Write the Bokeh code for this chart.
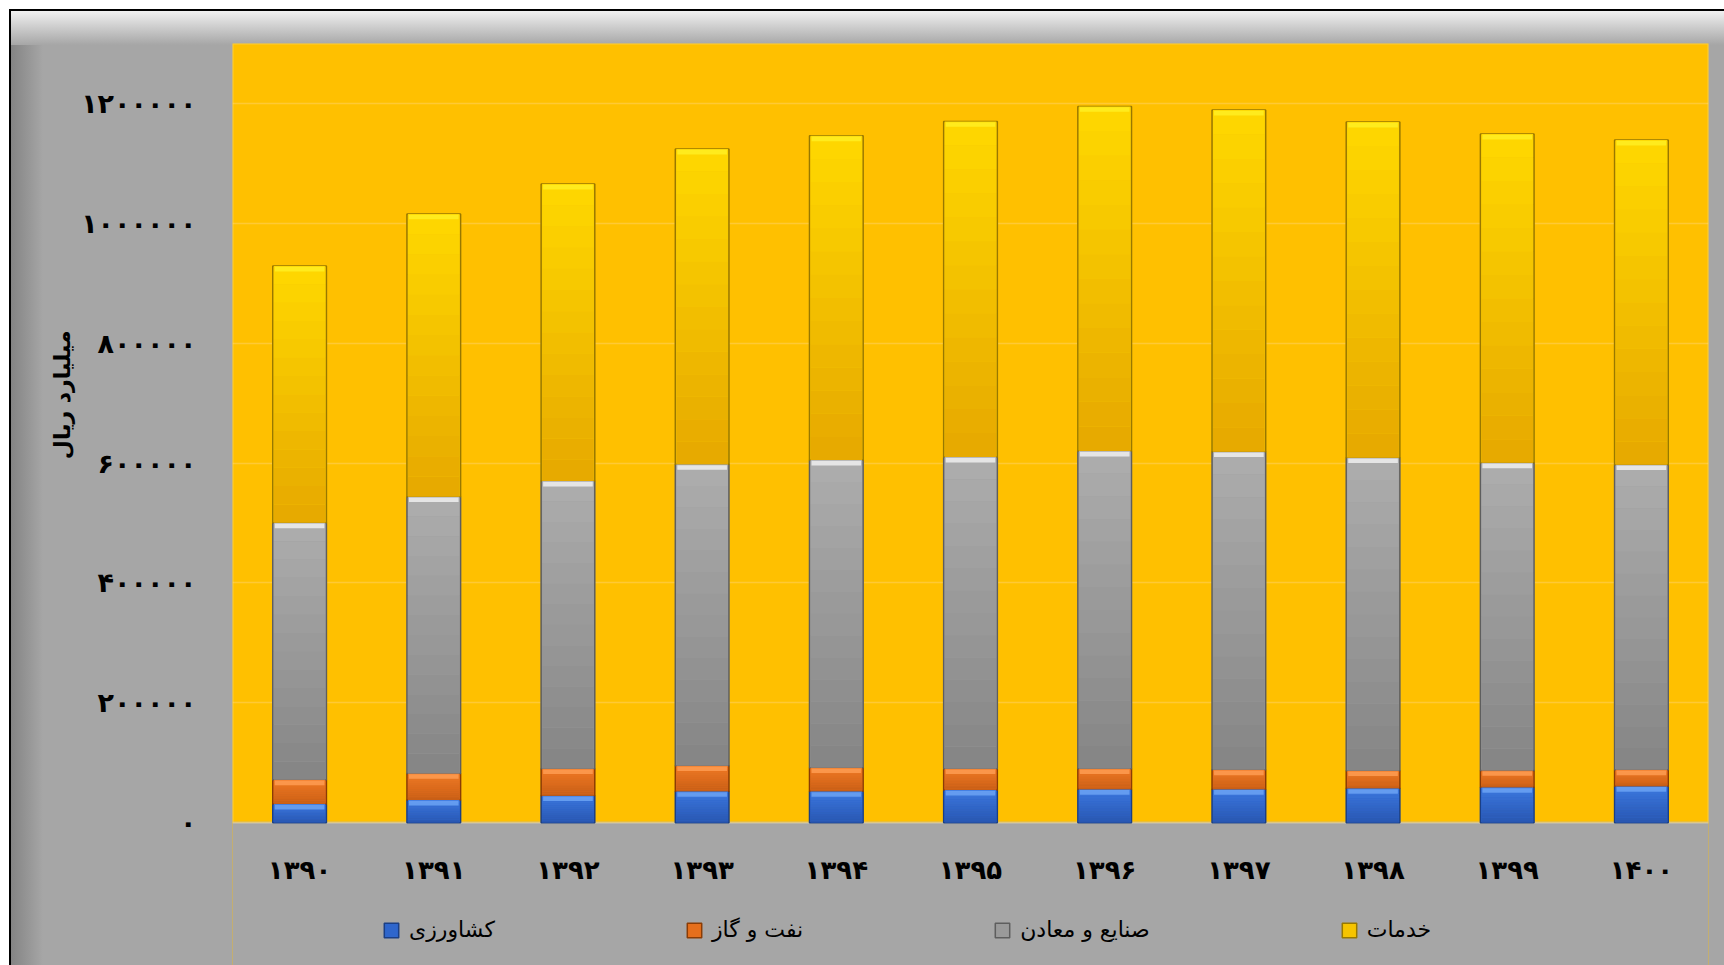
from bokeh.plotting import figure
from bokeh.models import (FactorRange, Range1d, FixedTicker, Legend, LegendItem,
                          ColumnDataSource, BoxAnnotation, Title)
from bokeh.embed import file_html
from bokeh.resources import INLINE

# ---- data ----
years = ["۱۳۹۰", "۱۳۹۱", "۱۳۹۲", "۱۳۹۳", "۱۳۹۴", "۱۳۹۵", "۱۳۹۶", "۱۳۹۷", "۱۳۹۸", "۱۳۹۹", "۱۴۰۰"]
series_names = ["کشاورزی", "نفت و گاز", "صنایع و معادن", "خدمات"]
keshavarzi = [31000, 37800, 45000, 52200, 52200, 54400, 55600, 55600, 57200, 58900, 60600]
naft_gaz = [40500, 44400, 45000, 42800, 39500, 35600, 34400, 32700, 29500, 28300, 27700]
sanaye = [428800, 461700, 480000, 502800, 513300, 520000, 530000, 530600, 522200, 513300, 508900]
khadamat = [428400, 471700, 495600, 526100, 541100, 560000, 575000, 570000, 560000, 548400, 541700]
y_ticks = [0, 200000, 400000, 600000, 800000, 1000000, 1200000]
y_tick_labels = ["۰", "۲۰۰۰۰۰", "۴۰۰۰۰۰", "۶۰۰۰۰۰", "۸۰۰۰۰۰", "۱۰۰۰۰۰۰", "۱۲۰۰۰۰۰"]
y_title = "میلیارد ریال"

keys = ["k", "n", "s", "h"]
fills = ["#2F66CC", "#E56F1C", "#9A9A9A", "#F6C400"]
lines = ["#1B3F85", "#8A3C05", "#5E5E5E", "#987800"]
highlights = ["#6FA6F5", "#FF9F55", "#F4F4F4", "#FFF024"]
grad_top = ["#3C78E0", "#F07A25", "#ADADAD", "#FFD800"]
grad_bot = ["#2856B0", "#C85E15", "#858585", "#E6A800"]

data = dict(year=years, k=keshavarzi, n=naft_gaz, s=sanaye, h=khadamat)
src = ColumnDataSource(data)

FONT = "DejaVu Sans"


def mix(c1, c2, t):
    a = [int(c1[i:i + 2], 16) for i in (1, 3, 5)]
    b = [int(c2[i:i + 2], 16) for i in (1, 3, 5)]
    return "#%02x%02x%02x" % tuple(round(x + (y - x) * t) for x, y in zip(a, b))


p = figure(
    x_range=FactorRange(*years, range_padding=0),
    y_range=Range1d(-238333, 1300000),
    width=1713, height=954,
    frame_width=1476, frame_height=922,
    output_backend="svg", toolbar_location=None,
    min_border_left=221, min_border_right=16, min_border_top=32, min_border_bottom=0,
    styles={
        "margin-left": "9px", "margin-top": "9px",
        "border-left": "2px solid #000", "border-top": "2px solid #000",
        "background-color": "#A6A6A6",
        "background-image": "linear-gradient(to bottom, #F0F0F0 0px, #A6A6A6 100%), linear-gradient(to right, #848484 0px, #A6A6A6 100%)",
        "background-size": "100% 34px, 32px 100%",
        "background-repeat": "no-repeat",
    },
)
p.border_fill_color = None
p.background_fill_color = "#FFC000"
p.outline_line_color = None

p.xgrid.grid_line_color = None
p.ygrid.grid_line_color = "#FFC935"
p.ygrid.grid_line_width = 1.5
p.ygrid.ticker = FixedTicker(ticks=y_ticks)

# grey area below the plot area (outside the value range)
p.add_layout(BoxAnnotation(top=0, fill_color="#A6A6A6", fill_alpha=1,
                           line_color="#A6A6A6", line_width=3, level="underlay"))
# light outline of the plot area
p.add_layout(BoxAnnotation(bottom=0, fill_alpha=0, line_color="#FFEDB5", line_width=2, level="underlay"))

renderers = p.vbar_stack(keys, x="year", width=0.4, source=src,
                         fill_color=fills, line_color=lines, line_width=1.5)

# vertical shading inside each segment + bevel highlight strip at its top
nb = 14
cum = [0] * len(years)
strip = 9000
for i, vals in enumerate([keshavarzi, naft_gaz, sanaye, khadamat]):
    tops = [c + v for c, v in zip(cum, vals)]
    for b in range(nb):
        t0 = b / nb
        t1 = (b + 1) / nb
        col = mix(grad_bot[i], grad_top[i], (t0 + t1) / 2)
        p.vbar(x=years, bottom=[c + v * t0 for c, v in zip(cum, vals)],
               top=[c + v * t1 for c, v in zip(cum, vals)], width=0.385,
               fill_color=col, line_color=None)
    p.vbar(x=years, top=[t - 1300 for t in tops], bottom=[t - strip for t in tops], width=0.37,
           fill_color=highlights[i], line_color=None, fill_alpha=0.8)
    cum = tops

p.yaxis.ticker = FixedTicker(ticks=y_ticks)
p.yaxis.major_label_overrides = {t: l for t, l in zip(y_ticks, y_tick_labels)}
p.yaxis.axis_label = None

p.xaxis.fixed_location = 0

for ax in (p.xaxis[0], p.yaxis[0]):
    ax.axis_line_color = None
    ax.major_tick_line_color = None
    ax.minor_tick_line_color = None
    ax.major_label_text_font = FONT
    ax.major_label_text_font_style = "bold"
    ax.major_label_text_color = "black"

p.yaxis.major_label_text_font_size = "27px"
p.xaxis.major_label_text_font_size = "26px"
p.yaxis.major_label_standoff = 30
p.xaxis.major_label_standoff = 26

ytitle = Title(text=y_title, align="right", offset=287, standoff=8,
               text_font=FONT, text_font_style="bold", text_font_size="22px", text_color="black")
p.add_layout(ytitle, "left")

legend = Legend(
    items=[LegendItem(label=n, renderers=[r]) for n, r in zip(series_names, renderers)],
    orientation="horizontal",
    location=(150, 23),
    spacing=190,
    padding=0,
    margin=0,
    glyph_width=18, glyph_height=18,
    label_standoff=9,
    label_text_font=FONT,
    label_text_font_size="22px",
    label_text_color="black",
    background_fill_alpha=0,
    border_line_color=None,
)
p.add_layout(legend)

open("out.html", "w").write(file_html(p, INLINE))
